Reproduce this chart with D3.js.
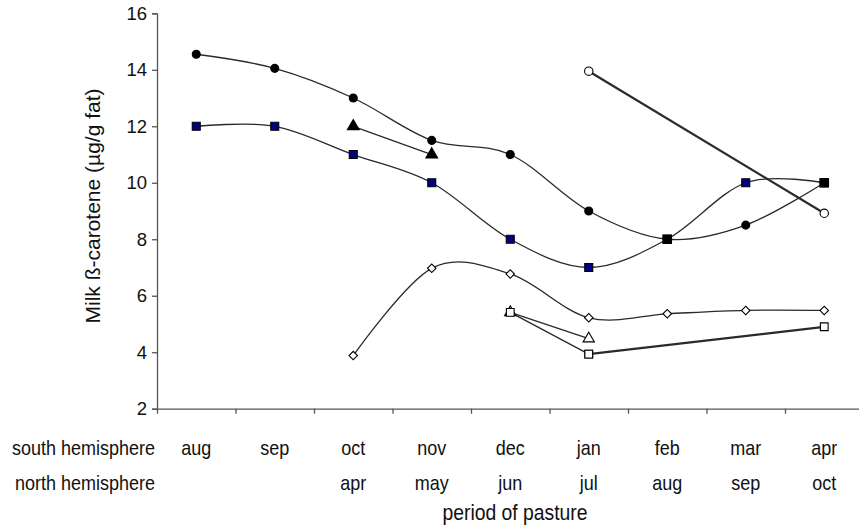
<!DOCTYPE html>
<html>
<head>
<meta charset="utf-8">
<script src="https://cdn.jsdelivr.net/npm/d3@7"></script>
<style>
  body { margin: 0; background: #fff; }
  svg { display: block; font-family: "Liberation Sans", Arial, sans-serif; }
</style>
</head>
<body>
<svg id="chart" width="859" height="527"></svg>
<script>
// ---- data ----
const southMonths = ["aug", "sep", "oct", "nov", "dec", "jan", "feb", "mar", "apr"];
const northMonths = ["", "", "apr", "may", "jun", "jul", "aug", "sep", "oct"];
const yTicks = [2, 4, 6, 8, 10, 12, 14, 16];

// filled circles (smoothed)
const filledCircle = [14.55, 14.05, 13.0, 11.5, 11.0, 9.0, 8.0, 8.5, 10.0];
// navy squares (smoothed)
const navySquare   = [12.0, 12.0, 11.0, 10.0, 8.0, 7.0, 8.0, 10.0, 10.0];
// black squares (markers only)
const blackSquare  = [null, null, null, null, null, null, 8.0, null, 10.0];
// filled triangles (straight)
const filledTriangle = [null, null, 12.0, 11.0, null, null, null, null, null];
// open circles (straight, heavy)
const openCircle   = [null, null, null, null, null, 13.95, null, null, 8.92];
// open diamonds (smoothed)
const openDiamond  = [null, null, 3.88, 6.97, 6.77, 5.22, 5.36, 5.48, 5.48];
// open triangles (straight)
const openTriangle = [null, null, null, null, 5.41, 4.48, null, null, null];
// open squares (straight)
const openSquareEarly = [null, null, null, null, 5.41, 3.93, null, null, null];
const openSquareLate  = [null, null, null, null, null, 3.93, null, null, 4.9];

// ---- layout ----
const svg = d3.select("#chart");
const x0 = 157, bandW = 78.5;
const x = d3.scaleBand().domain(southMonths).range([x0, x0 + bandW * southMonths.length]).padding(0);
const xIdx = d3.scaleLinear().domain([0, southMonths.length]).range([x0, x0 + bandW * southMonths.length]);
const y = d3.scaleLinear().domain([2, 16]).range([408.7, 13.3]);
const cx = m => x(m) + x.bandwidth() / 2;

const axisColor = "#555";
const lineColor = "#2a2a2a";
const textColor = "#111";

// y axis
const yAxis = svg.append("g").attr("transform", `translate(${x0},0)`)
  .call(d3.axisLeft(y).tickValues(yTicks).tickSize(5).tickPadding(5).tickFormat(d3.format("d")));
yAxis.select(".domain").attr("stroke", axisColor).attr("stroke-width", 1.3);
yAxis.selectAll(".tick line").attr("stroke", axisColor).attr("stroke-width", 1.3);
yAxis.selectAll(".tick text").attr("font-size", 18.5).attr("fill", textColor)
  .attr("font-family", "Liberation Sans, Arial, sans-serif");

// x axis (ticks between categories)
const xAxis = svg.append("g").attr("transform", `translate(0,${y(2)})`)
  .call(d3.axisBottom(xIdx).tickValues(d3.range(1, southMonths.length + 1)).tickSize(5).tickFormat(""));
xAxis.select(".domain").attr("stroke", axisColor).attr("stroke-width", 1.3);
xAxis.selectAll(".tick line").attr("stroke", axisColor).attr("stroke-width", 1.3);

// category labels (slightly tall glyphs like the reference)
const labelFont = 20, sx = 0.9;
function label(xp, yp, anchor, txt, size) {
  svg.append("text")
    .attr("transform", `translate(${xp},${yp}) scale(${sx},1)`)
    .attr("text-anchor", anchor).attr("font-size", size || labelFont)
    .attr("fill", textColor).text(txt);
}
southMonths.forEach((m, i) => {
  label(cx(m), 455, "middle", m);
  if (northMonths[i]) label(cx(m), 490, "middle", northMonths[i]);
});
label(155, 455, "end", "south hemisphere");
label(155, 490, "end", "north hemisphere");
label(515, 520, "middle", "period of pasture", 21.5);

// y title
svg.append("text").attr("transform", "translate(100,206) rotate(-90)")
  .attr("text-anchor", "middle").attr("font-size", 21).attr("fill", textColor)
  .text("Milk ß-carotene (µg/g fat)");

// ---- lines ----
const toPts = arr => arr.map((v, i) => v == null ? null : [cx(southMonths[i]), y(v)]).filter(p => p);
const smooth = d3.line().curve(d3.curveCatmullRom.alpha(0));
const straight = d3.line();
const lines = [
  {d: filledCircle, gen: smooth, w: 1.3},
  {d: navySquare, gen: smooth, w: 1.3},
  {d: openDiamond, gen: smooth, w: 1.3},
  {d: filledTriangle, gen: straight, w: 1.3},
  {d: openTriangle, gen: straight, w: 1.3},
  {d: openSquareEarly, gen: straight, w: 1.3},
  {d: openSquareLate, gen: straight, w: 2.2},
  {d: openCircle, gen: straight, w: 2.2}
];
svg.append("g").selectAll("path").data(lines).join("path")
  .attr("d", l => l.gen(toPts(l.d)))
  .attr("fill", "none").attr("stroke", lineColor).attr("stroke-width", l => l.w);

// ---- markers ----
const g = svg.append("g");
function markers(arr, type, fill, size, rot) {
  const pts = toPts(arr);
  const sym = d3.symbol().type(type).size(size);
  g.append("g").selectAll("path").data(pts).join("path")
    .attr("transform", p => `translate(${p[0]},${p[1]}) rotate(${rot || 0})`)
    .attr("d", sym())
    .attr("fill", fill).attr("stroke", "#000").attr("stroke-width", 1.1);
}
markers(filledCircle, d3.symbolCircle, "#000", 50);
markers(navySquare, d3.symbolSquare, "#000080", 64);
markers(blackSquare, d3.symbolSquare, "#000", 72);
markers(filledTriangle, d3.symbolTriangle, "#000", 60);
markers(openCircle, d3.symbolCircle, "#fff", 55);
markers(openDiamond, d3.symbolSquare, "#fff", 36, 45);
markers(openTriangle, d3.symbolTriangle, "#fff", 55);
markers(openSquareEarly, d3.symbolSquare, "#fff", 60);
markers(openSquareLate, d3.symbolSquare, "#fff", 60);
</script>
</body>
</html>
